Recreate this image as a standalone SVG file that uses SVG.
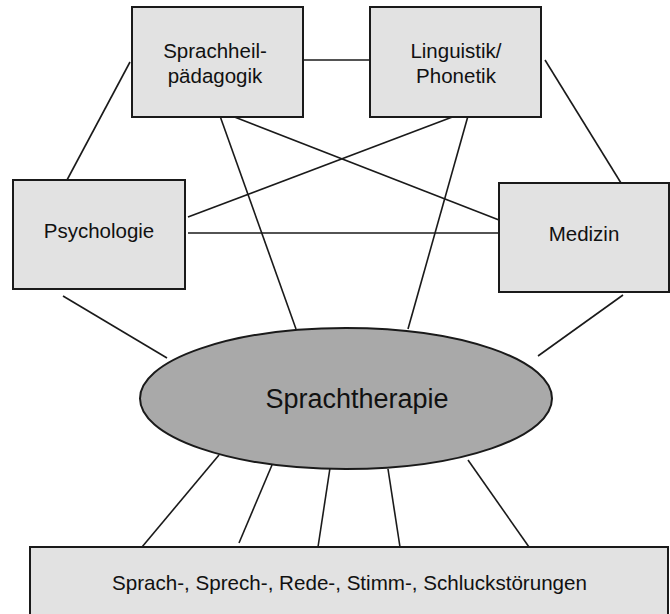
<svg xmlns="http://www.w3.org/2000/svg" width="670" height="614" viewBox="0 0 670 614">
<style>
.box{fill:#e2e2e2;stroke:#1a1a1a;stroke-width:2}
.ell{fill:#a9a9a9;stroke:#1a1a1a;stroke-width:2}
.lbl{font-family:"Liberation Sans",Arial,sans-serif;font-size:20.5px;fill:#111;text-anchor:middle}
.big{font-size:27px}
#connectors line{stroke:#1a1a1a;stroke-width:1.6}
</style>
<rect width="670" height="614" fill="#ffffff"/>
<g id="connectors">
<line x1="303" y1="60" x2="370" y2="60"/>
<line x1="130" y1="62" x2="67" y2="180"/>
<line x1="545" y1="60" x2="621" y2="183"/>
<line x1="220" y1="116" x2="296" y2="329"/>
<line x1="232" y1="116" x2="499" y2="220"/>
<line x1="455" y1="116" x2="188" y2="217"/>
<line x1="468" y1="116" x2="408" y2="329"/>
<line x1="188" y1="233" x2="499" y2="233"/>
<line x1="63" y1="296" x2="167" y2="358"/>
<line x1="623" y1="295" x2="538" y2="356"/>
<line x1="219" y1="455" x2="142" y2="547"/>
<line x1="272" y1="465" x2="239" y2="543"/>
<line x1="330" y1="468" x2="318" y2="547"/>
<line x1="388" y1="469" x2="400" y2="547"/>
<line x1="468" y1="460" x2="529" y2="547"/>
</g>
<g id="sprachheil">
<rect class="box" x="132" y="7" width="171" height="110"/>
<text class="lbl" x="215" y="58">Sprachheil-</text>
<text class="lbl" x="215" y="83">pädagogik</text>
</g>
<g id="linguistik">
<rect class="box" x="370" y="7" width="171" height="110"/>
<text class="lbl" x="456" y="58">Linguistik/</text>
<text class="lbl" x="456" y="83">Phonetik</text>
</g>
<g id="psychologie">
<rect class="box" x="13" y="180" width="172" height="109"/>
<text class="lbl" x="99" y="238">Psychologie</text>
</g>
<g id="medizin">
<rect class="box" x="499" y="183" width="170" height="109"/>
<text class="lbl" x="584" y="241">Medizin</text>
</g>
<g id="sprachtherapie">
<ellipse class="ell" cx="346" cy="398.5" rx="206" ry="70.5"/>
<text class="lbl big" x="357" y="408">Sprachtherapie</text>
</g>
<g id="stoerungen">
<rect class="box" x="30" y="547" width="638" height="80"/>
<text class="lbl" x="349.5" y="590" style="font-size:20.6px">Sprach-, Sprech-, Rede-, Stimm-, Schluckstörungen</text>
</g>
</svg>
